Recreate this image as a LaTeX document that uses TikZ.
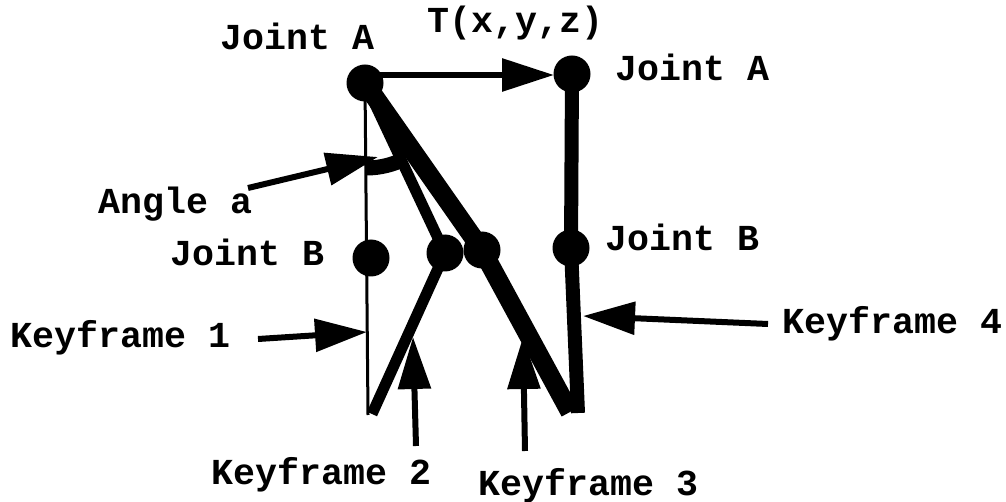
\documentclass[tikz,border=0pt]{standalone}
\usepackage{fontspec}
\newfontfamily\cour{Liberation Mono}
\usetikzlibrary{arrows.meta}
\tikzset{
  lbl/.style={anchor=base west, inner sep=0pt, font=\cour\bfseries\fontsize{18.3pt}{22pt}\selectfont},
  joint/.style={circle, fill=black, minimum size=18.5pt, inner sep=0pt},
  ptr/.style={line width=3pt, -{Triangle[length=26pt,width=16pt]}},
  kfone/.style={line width=1.5pt},
  kftwo/.style={line width=5.5pt, line join=round},
  kfthree/.style={line width=9.5pt, line join=round},
  kffour/.style={line width=7pt, line join=round},
}
\begin{document}
\begin{tikzpicture}[x=0.5pt,y=-0.5pt]
\useasboundingbox (0,0) rectangle (1006,502);
% coordinates
\coordinate (A) at (365,83);
\coordinate (B1) at (371,258);
\coordinate (B2) at (445,253);
\coordinate (B3) at (482,250);
\coordinate (A4) at (572,74);
\coordinate (B4) at (571,248);
\coordinate (E1) at (368,415);
\coordinate (E2) at (372,414);
\coordinate (E3) at (570,412);
\coordinate (E4) at (578,413);
% keyframe lines
\draw[kfone] (A) -- (E1);
\draw[kftwo] (A) -- (B2) -- (E2);
\draw[kfthree] (A) -- (B3) -- (E3);
\draw[kffour] (A4) -- (B4) -- (E4);
% angle arc
\draw[line width=7.5pt] plot[domain=66:90, samples=25] ({366+86*cos(\x)},{82+86*sin(\x)});
% joints
\node[joint] (jA) at (A) {};
\node[joint] (jA4) at (A4) {};
\node[joint] (jB1) at (B1) {};
\node[joint] (jB2) at (B2) {};
\node[joint] (jB3) at (B3) {};
\node[joint] (jB4) at (B4) {};
% labels
\node[lbl] (tJA) at (220,50) {Joint A};
\node[lbl] (tT) at (427,33) {T(x,y,z)};
\node[lbl] (tJA4) at (615,81) {Joint A};
\node[lbl] (tAng) at (98,214) {Angle a};
\node[lbl] (tJB1) at (170,265) {Joint B};
\node[lbl] (tJB4) at (605,250) {Joint B};
\node[lbl] (tK1) at (10,347) {Keyframe 1};
\node[lbl] (tK4) at (782,333) {Keyframe 4};
\node[lbl] (tK2) at (211,484) {Keyframe 2};
\node[lbl] (tK3) at (478,495) {Keyframe 3};
% arrow endpoints
\coordinate (sT) at (372,75);
\coordinate (eT) at (554,75);
\coordinate (sAng) at (248,188);
\coordinate (eAng) at (378,157);
\coordinate (sK1) at (258,339);
\coordinate (eK1) at (367,332);
\coordinate (sK4) at (768,324);
\coordinate (eK4) at (583,316);
\coordinate (sK2) at (416,446);
\coordinate (eK2) at (413,337);
\coordinate (sK3) at (525,451);
\coordinate (eK3) at (523,337);
\draw[ptr] (sT) -- (eT);
\draw[ptr] (sAng) -- (eAng);
\draw[ptr] (sK1) -- (eK1);
\draw[ptr] (sK4) -- (eK4);
\draw[ptr] (sK2) -- (eK2);
\draw[ptr] (sK3) -- (eK3);
\end{tikzpicture}
\end{document}
